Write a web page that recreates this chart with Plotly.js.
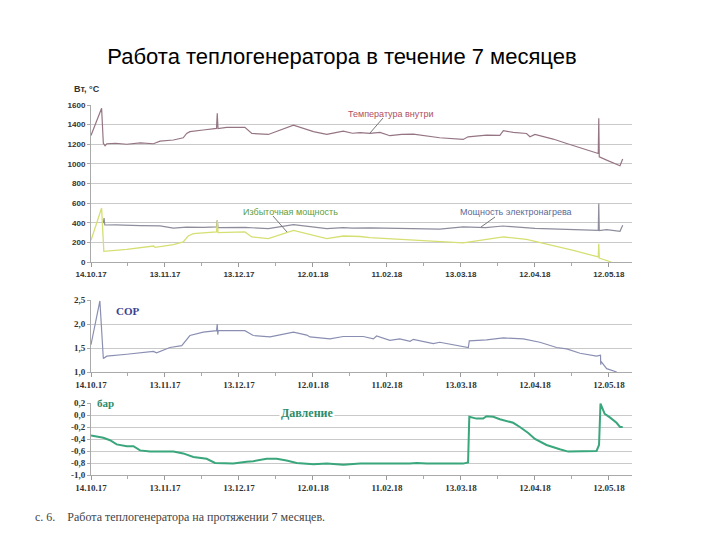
<!DOCTYPE html>
<html>
<head>
<meta charset="utf-8">
<script src="https://cdn.plot.ly/plotly-3.0.1.min.js"></script>
<style>html,body{margin:0;padding:0;background:#fff;}#chart{width:720px;height:540px;}</style>
</head>
<body>
<div id="chart"></div>
<script>
// ---- data (x = days since 14.10.17) ----
const startDate = "2017-10-14";
const endDate = "2018-05-21 09:00";

const tempDays = [0,4.3,5.0,5.7,6.4,10,14.5,20,25.3,28,33.4,37.4,38.8,40.1,45.5,50.9,51.2,51.5,55,62.4,65.2,71.9,82.1,90.2,95.6,102.3,106,109.1,113.1,117.2,121.2,126,130.7,141.4,150.9,152.9,160.4,165.8,167.2,171.2,176.6,178.0,180.0,187.4,192.9,198.3,205.7,205.9,206.1,209.1,214.5,215.6];
const tempVals = [1290,1566,1210,1185,1205,1210,1200,1215,1205,1232,1243,1266,1310,1328,1345,1362,1515,1360,1372,1372,1310,1300,1395,1328,1300,1334,1312,1318,1310,1320,1287,1300,1304,1266,1249,1276,1294,1290,1338,1321,1310,1276,1300,1253,1208,1164,1106,1464,1072,1038,981,1050];

const elecDays = [5.0,5.3,5.6,10,20,28,33.4,38.8,45.5,50.9,51.2,51.5,62.4,71.9,82.1,90.2,95.6,102.3,106,113.1,126,141.4,150.9,160,167,180,192.9,205.7,205.9,206.1,209.1,214.5,215.6];
const elecVals = [397,448,377,378,370,368,345,355,352,357,425,350,352,340,381,360,340,350,345,347,340,335,357,350,367,342,333,323,596,320,330,313,374];

const excessDays = [0,4.3,5.2,14.5,25.3,26,33.4,37.4,39.4,41.5,50.9,51.2,51.5,62.4,65.2,71.9,82.1,90.2,95.6,102.3,109.1,113.1,126.5,141.4,150.9,160.4,167.2,176.6,187.4,195.6,205.7,205.9,206.1,209.1,211];
const excessVals = [221,551,109,129,163,150,177,204,265,289,306,425,300,306,255,238,323,272,238,265,260,248,231,211,194,231,255,231,170,119,51,187,40,14,0];

const copDays = [0,3.6,5.0,6.4,14.5,25.3,26.6,32.0,36.8,40.1,45.5,50.9,51.2,51.4,51.6,62.4,65.8,72.6,82.1,87.5,88.8,96.9,102.3,110.4,114.5,115.8,121.2,125.2,129.4,130.7,138.8,141.4,153.0,153.4,160.4,167.2,175.3,182.0,188.8,192.9,198.3,205.0,206.6,206.7,206.8,209.1,213.2];
const copVals = [1.57,2.48,1.28,1.33,1.37,1.43,1.40,1.51,1.55,1.76,1.83,1.86,2.00,1.78,1.86,1.86,1.76,1.73,1.83,1.77,1.73,1.69,1.74,1.74,1.69,1.75,1.66,1.69,1.64,1.68,1.59,1.62,1.51,1.65,1.67,1.71,1.69,1.62,1.51,1.48,1.39,1.33,1.35,1.15,1.22,1.07,1.00];

const presDays = [0,5.0,7.7,10.4,14.5,17.2,19.9,23.9,33.4,37.4,41.5,46.9,50.3,57.7,63.1,65.8,71.2,75.3,79.3,83.4,90.2,95.6,102.3,109.1,129.3,132.0,136.1,150.9,152.9,153.4,156.3,159.0,160.4,163.1,165.8,171.2,173.9,177.3,180.0,184.7,190.1,193.5,205.0,206.0,206.6,208.3,210.4,213.1,214.5,215.6];
const presVals = [-0.34,-0.38,-0.42,-0.49,-0.52,-0.52,-0.59,-0.61,-0.61,-0.64,-0.70,-0.73,-0.80,-0.81,-0.78,-0.77,-0.73,-0.73,-0.76,-0.80,-0.82,-0.81,-0.83,-0.81,-0.81,-0.80,-0.81,-0.81,-0.79,-0.03,-0.06,-0.06,-0.02,-0.03,-0.07,-0.13,-0.20,-0.30,-0.40,-0.50,-0.57,-0.61,-0.60,-0.50,0.19,0.02,-0.04,-0.13,-0.20,-0.20];

const y1Ticks = [0,200,400,600,800,1000,1200,1400,1600];
const y1Text = ["0","200","400","600","800","1000","1200","1400","1600"];
const y2Ticks = [1.0,1.5,2.0,2.5];
const y2Text = ["1,0","1,5","2,0","2,5"];
const y3Ticks = [-1.0,-0.8,-0.6,-0.4,-0.2,0.0,0.2];
const y3Text = ["-1,0","-0,8","-0,6","-0,4","-0,2","0,0","0,2"];

// ---- helpers ----
const DAY = 86400000;
const t0 = Date.UTC(2017, 9, 14);
function toDate(d) { return new Date(t0 + d * DAY).toISOString().slice(0, 19).replace('T', ' '); }
const dates = arr => arr.map(toDate);
const W = 720, H = 540;
const px = v => v / W, py = v => 1 - v / H;

const traces = [
  {x: dates(tempDays), y: tempVals, xaxis: 'x', yaxis: 'y', mode: 'lines', line: {color: '#957584', width: 1.2}},
  {x: dates(elecDays), y: elecVals, xaxis: 'x', yaxis: 'y', mode: 'lines', line: {color: '#8d8d9c', width: 1.2}},
  {x: dates(excessDays), y: excessVals, xaxis: 'x', yaxis: 'y', mode: 'lines', line: {color: '#d6df72', width: 1.3}},
  {x: dates(copDays), y: copVals, xaxis: 'x2', yaxis: 'y2', mode: 'lines', line: {color: '#8a8fb2', width: 1.2}},
  {x: dates(presDays), y: presVals, xaxis: 'x3', yaxis: 'y3', mode: 'lines', line: {color: '#3aa67c', width: 2}}
];

function xAx(anchor, font) {
  return {
    type: 'date', anchor: anchor, domain: [px(91), px(632)],
    range: [startDate, endDate],
    tickmode: 'linear', tick0: startDate, dtick: 30 * DAY, tickformat: '%d.%m.%y',
    ticks: 'outside', ticklen: 4, tickcolor: '#999',
    minor: {tick0: startDate, dtick: 15 * DAY, ticks: 'outside', ticklen: 3, tickcolor: '#aaa', showgrid: false},
    showline: true, linecolor: '#aaa', linewidth: 1, showgrid: false, zeroline: false,
    tickfont: font, fixedrange: true
  };
}
function yAx(dom, range, tv, tt, font) {
  return {
    domain: dom, range: range, tickmode: 'array', tickvals: tv, ticktext: tt,
    ticks: 'outside', ticklen: 3, tickcolor: '#aaa',
    showline: true, linecolor: '#aaa', showgrid: true, gridcolor: '#c9c9c9', gridwidth: 1,
    zeroline: false, tickfont: font, fixedrange: true
  };
}
const sansTick = {family: 'Liberation Sans, Arial, sans-serif', size: 8, color: '#333', weight: 'bold'};
const serifTick = {family: 'Liberation Serif, Times New Roman, serif', size: 9, color: '#333', weight: 'bold'};

function note(text, x, y, font, extra) {
  return Object.assign({text: text, x: px(x), y: py(y), xref: 'paper', yref: 'paper',
    xanchor: 'center', yanchor: 'middle', showarrow: false, font: font}, extra || {});
}
const sansNote = c => ({family: 'Liberation Sans, Arial, sans-serif', size: 9, color: c});
const serifNote = (c, s) => ({family: 'Liberation Serif, Times New Roman, serif', size: s, color: c, weight: 'bold'});

const layout = {
  width: W, height: H, margin: {l: 0, r: 0, t: 0, b: 0},
  paper_bgcolor: '#fff', plot_bgcolor: '#fff', showlegend: false,
  title: {text: 'Работа теплогенератора в течение 7 месяцев', x: px(342), xanchor: 'center', xref: 'paper',
          y: py(56), yanchor: 'middle', yref: 'paper',
          font: {family: 'Liberation Sans, Arial, sans-serif', size: 22, color: '#000'}},
  xaxis: xAx('y', sansTick),
  yaxis: yAx([py(262), py(105)], [0, 1600], y1Ticks, y1Text, sansTick),
  xaxis2: xAx('y2', serifTick),
  yaxis2: yAx([py(372), py(300)], [1, 2.5], y2Ticks, y2Text, serifTick),
  xaxis3: xAx('y3', serifTick),
  yaxis3: yAx([py(475), py(403)], [-1, 0.2], y3Ticks, y3Text, serifTick),
  annotations: [
    note('Вт, °C', 72, 89, {family: 'Liberation Sans, Arial, sans-serif', size: 9, color: '#333', weight: 'bold'}, {xanchor: 'left'}),
    note('Температура внутри', 391, 114, sansNote('#b0505f')),
    note('Избыточная мощность', 290, 212, sansNote('#5e9e3e')),
    note('Мощность электронагрева', 516, 212, sansNote('#5a6a96')),
    note('COP', 128, 311, serifNote('#3a4090', 11)),
    note('бар', 105, 403, serifNote('#2e8b6a', 11), {bgcolor: '#fff'}),
    note('Давление', 307, 413, serifNote('#2e8b6a', 12), {bgcolor: '#fff'}),
    note('с. 6.&nbsp;&nbsp;&nbsp;&nbsp;Работа теплогенератора на протяжении 7 месяцев.', 33, 517,
         {family: 'Liberation Serif, DejaVu Serif, serif', size: 12, color: '#444'}, {xanchor: 'left'})
  ],
  shapes: [
    {type: 'line', xref: 'paper', yref: 'paper', x0: px(383), y0: py(118), x1: px(370), y1: py(133), line: {color: '#777', width: 1}},
    {type: 'line', xref: 'paper', yref: 'paper', x0: px(273), y0: py(216), x1: px(287), y1: py(232), line: {color: '#777', width: 1}},
    {type: 'line', xref: 'paper', yref: 'paper', x0: px(495), y0: py(217), x1: px(481), y1: py(227), line: {color: '#777', width: 1}}
  ]
};

Plotly.newPlot('chart', traces, layout, {staticPlot: true, displayModeBar: false});
</script>
</body>
</html>
